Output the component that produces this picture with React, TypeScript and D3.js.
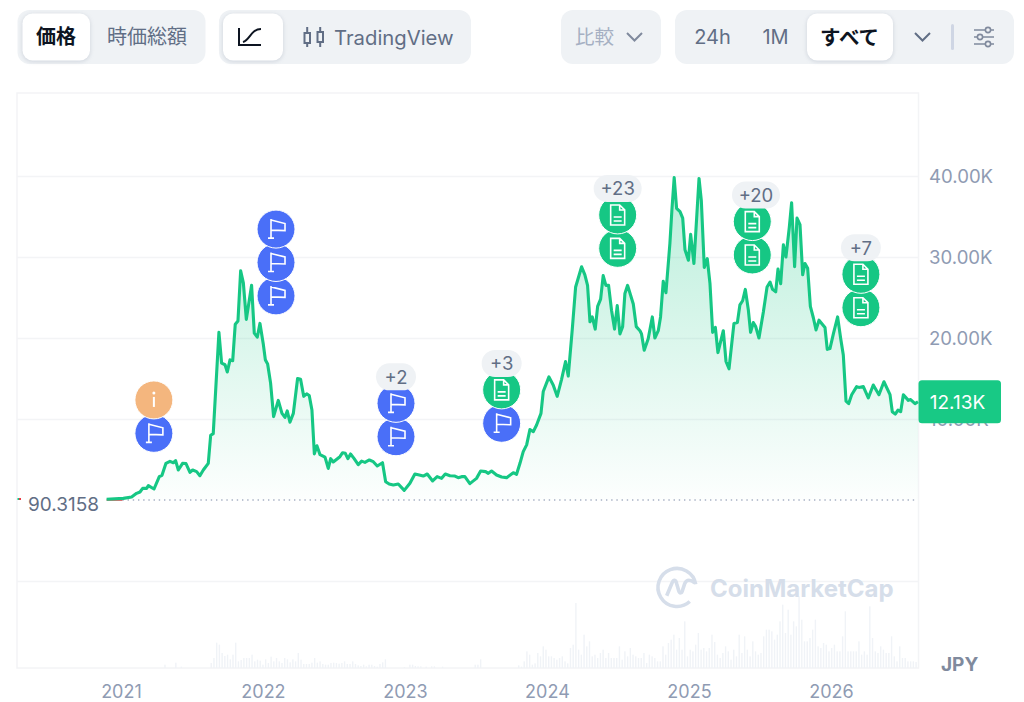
import { useEffect, useRef } from "react"
import * as d3 from "d3"

const LATIN = "Inter, 'Noto Sans CJK JP', sans-serif"

const GREEN = "#16c784"
const BLUE = "#4a6ff8"
const ORANGE = "#f4b67e"
const GRID = "#f3f4f6"
const AXIS_TEXT = "#8f9bb3"
const PILL = "#eff2f5"
const MUTED = "#616e85"

const W = 1024
const H = 702

// decimal year of each point
const priceYears = [
  2020.899, 2021.017, 2021.075, 2021.11, 2021.134, 2021.153, 2021.181, 2021.193, 2021.233, 2021.27,
  2021.289, 2021.317, 2021.345, 2021.369, 2021.385, 2021.404, 2021.434, 2021.458, 2021.486, 2021.505,
  2021.533, 2021.556, 2021.58, 2021.615, 2021.632, 2021.65, 2021.69, 2021.709, 2021.733, 2021.749,
  2021.768, 2021.787, 2021.805, 2021.824, 2021.843, 2021.862, 2021.883, 2021.92, 2021.939, 2021.96,
  2021.979, 2022.002, 2022.017, 2022.033, 2022.054, 2022.075, 2022.108, 2022.134, 2022.155, 2022.171,
  2022.19, 2022.214, 2022.244, 2022.265, 2022.287, 2022.308, 2022.326, 2022.345, 2022.362, 2022.38,
  2022.402, 2022.437, 2022.46, 2022.477, 2022.495, 2022.542, 2022.561, 2022.58, 2022.598, 2022.617,
  2022.641, 2022.671, 2022.695, 2022.718, 2022.749, 2022.777, 2022.805, 2022.842, 2022.864, 2022.889,
  2022.918, 2022.953, 2022.995, 2023.035, 2023.07, 2023.101, 2023.129, 2023.157, 2023.195, 2023.227,
  2023.258, 2023.284, 2023.317, 2023.352, 2023.375, 2023.399, 2023.422, 2023.457, 2023.504, 2023.533,
  2023.568, 2023.587, 2023.61, 2023.645, 2023.681, 2023.716, 2023.763, 2023.786, 2023.81, 2023.833,
  2023.857, 2023.88, 2023.904, 2023.927, 2023.958, 2023.974, 2024.014, 2024.044, 2024.072, 2024.103,
  2024.131, 2024.15, 2024.178, 2024.202, 2024.244, 2024.267, 2024.286, 2024.303, 2024.319, 2024.34,
  2024.357, 2024.378, 2024.396, 2024.415, 2024.434, 2024.455, 2024.476, 2024.495, 2024.514, 2024.533,
  2024.549, 2024.568, 2024.608, 2024.629, 2024.655, 2024.666, 2024.685, 2024.713, 2024.742, 2024.76,
  2024.784, 2024.8, 2024.819, 2024.838, 2024.866, 2024.88, 2024.896, 2024.913, 2024.937, 2024.956,
  2024.972, 2024.996, 2025.012, 2025.035, 2025.071, 2025.087, 2025.108, 2025.129, 2025.148, 2025.167,
  2025.186, 2025.204, 2025.242, 2025.261, 2025.282, 2025.317, 2025.341, 2025.359, 2025.378, 2025.397,
  2025.418, 2025.434, 2025.453, 2025.47, 2025.493, 2025.524, 2025.55, 2025.571, 2025.589, 2025.611,
  2025.627, 2025.646, 2025.665, 2025.683, 2025.707, 2025.723, 2025.744, 2025.761, 2025.782, 2025.801,
  2025.817, 2025.836, 2025.855, 2025.876, 2025.895, 2025.916, 2025.939, 2025.958, 2025.974, 2025.993,
  2026.017, 2026.047, 2026.068, 2026.087, 2026.106, 2026.125, 2026.146, 2026.181, 2026.197, 2026.228,
  2026.263, 2026.298, 2026.338, 2026.373, 2026.416, 2026.432, 2026.453, 2026.472, 2026.491, 2026.51,
  2026.545, 2026.561, 2026.592, 2026.613,
]

// price in thousand JPY
const priceValues = [
  0.09, 0.2, 0.37, 0.82, 0.99, 1.44, 1.44, 1.77, 1.36, 2.88,
  3.05, 4.53, 4.77, 4.6, 4.86, 3.7, 4.53, 4.49, 3.42, 3.7,
  3.5, 3.0, 3.7, 4.53, 8.0, 8.2, 20.7, 16.9, 16.7, 15.8,
  17.3, 17.2, 21.7, 22.1, 28.3, 26.8, 22.3, 26.5, 20.6, 20.1,
  21.8, 19.3, 17.3, 16.8, 14.4, 10.3, 12.3, 10.7, 10.2, 11.0,
  9.6, 10.7, 15.0, 14.9, 12.8, 13.1, 12.9, 11.1, 5.7, 6.7,
  5.6, 5.3, 3.9, 5.1, 4.7, 5.35, 5.84, 5.76, 5.1, 5.68,
  5.14, 4.36, 4.8, 4.65, 4.94, 4.73, 4.2, 4.6, 2.26, 1.97,
  1.85, 1.97, 1.19, 2.06, 3.21, 3.09, 2.96, 3.21, 2.35, 2.88,
  2.67, 3.21, 3.0, 2.96, 2.76, 2.88, 2.88, 2.02, 2.67, 3.58,
  3.5, 3.29, 3.58, 3.09, 2.84, 2.76, 3.37, 3.17, 4.53, 5.97,
  6.8, 8.7, 8.44, 9.26, 10.7, 13.4, 15.2, 14.2, 12.8, 14.9,
  17.1, 15.3, 21.0, 26.3, 28.8, 27.8, 26.5, 22.0, 22.6, 21.1,
  23.9, 24.8, 27.7, 26.5, 26.5, 23.4, 21.1, 24.0, 20.5, 21.4,
  25.5, 26.5, 24.2, 21.4, 20.9, 20.5, 18.5, 19.9, 22.6, 20.0,
  20.9, 22.6, 27.0, 25.6, 31.7, 35.8, 39.8, 36.0, 35.6, 34.8,
  30.9, 29.6, 32.8, 29.2, 39.7, 37.0, 28.7, 29.8, 26.75, 20.7,
  21.3, 18.2, 20.9, 17.1, 16.2, 21.8, 21.9, 24.1, 24.6, 26.0,
  23.5, 20.7, 21.9, 21.4, 20.0, 23.2, 26.3, 26.9, 26.0, 25.7,
  28.5, 26.7, 31.5, 30.0, 33.7, 36.7, 28.8, 34.8, 34.0, 27.8,
  29.2, 28.6, 23.9, 22.5, 21.0, 22.2, 21.7, 21.3, 18.6, 18.7,
  20.5, 22.6, 20.0, 17.9, 12.2, 11.9, 13.0, 14.0, 13.9, 14.0,
  12.6, 14.2, 13.0, 14.6, 13.0, 10.9, 10.6, 11.1, 10.9, 13.0,
  12.3, 12.4, 11.9, 12.13,
]

// weekly volume (arbitrary units), first bar at volumeStart
const volumeStart = 2021.31
const volumes = [
  10, 0, 0, 0, 16, 0, 4, 0, 0, 0, 0, 0, 0, 0, 0, 0, 0, 15, 30, 76,
  70, 45, 36, 40, 26, 40, 76, 20, 24, 30, 30, 30, 40, 20, 25, 22, 10, 26, 15, 34,
  20, 30, 20, 15, 30, 26, 17, 26, 20, 45, 25, 12, 12, 12, 16, 30, 16, 20, 12, 10,
  10, 15, 16, 15, 13, 15, 20, 12, 12, 20, 12, 8, 6, 10, 5, 10, 10, 6, 4, 12,
  17, 26, 0, 0, 0, 0, 0, 0, 3, 0, 10, 10, 6, 5, 5, 0, 4, 0, 5, 5,
  0, 0, 4, 0, 0, 0, 0, 0, 0, 0, 0, 0, 0, 0, 10, 10, 26, 0, 0, 0,
  0, 0, 0, 0, 0, 0, 0, 0, 0, 0, 8, 4, 20, 50, 40, 10, 14, 45, 35, 65,
  55, 35, 35, 30, 25, 30, 35, 20, 14, 60, 70, 195, 55, 40, 100, 65, 80, 35, 40, 30,
  45, 55, 30, 45, 30, 30, 30, 65, 25, 50, 35, 60, 40, 35, 30, 30, 45, 15, 40, 35,
  30, 20, 20, 65, 40, 75, 85, 100, 55, 90, 55, 140, 35, 55, 50, 70, 105, 55, 60, 50,
  60, 100, 78, 40, 30, 45, 65, 50, 25, 55, 35, 100, 45, 95, 55, 35, 80, 50, 40, 45,
  95, 115, 115, 110, 85, 100, 140, 190, 105, 175, 100, 140, 125, 215, 145, 80, 80, 90, 115, 145,
  65, 60, 75, 70, 50, 60, 70, 50, 50, 95, 170, 50, 50, 50, 50, 80, 40, 50, 40, 185,
  90, 50, 45, 65, 55, 45, 45, 95, 35, 20, 65, 30, 30, 20, 20, 20, 18,
]

const yearTicks = [2021, 2022, 2023, 2024, 2025, 2026]
const priceTicks = [10, 20, 30, 40]
const gridTicks = [-10, 10, 20, 30, 40]

// event stacks: date, price level of the lowest circle, kinds bottom to top, hidden count
const eventYears = [2021.232, 2022.092, 2022.937, 2023.681, 2024.498, 2025.446, 2026.211]
const eventLevels = [8.23, 25.2, 7.81, 9.47, 31.07, 30.25, 23.74]
const eventKinds = [
  ["flag", "info"],
  ["flag", "flag", "flag"],
  ["flag", "flag"],
  ["flag", "doc"],
  ["doc", "doc"],
  ["doc", "doc"],
  ["doc", "doc"],
]
const eventMore = ["", "", "+2", "+3", "+23", "+20", "+7"]

const lastPrice = "12.13K"
const basePrice = "90.3158"

const EVENT_STEP = 33.4
const EVENT_R = 19

function drawEventIcon(g: d3.Selection<SVGGElement, unknown, null, undefined>, kind: string) {
  const fill = kind === "flag" ? BLUE : kind === "doc" ? GREEN : ORANGE
  g.append("circle").attr("r", EVENT_R).attr("fill", fill).attr("stroke", "#fff").attr("stroke-width", 1)
  const icon = g.append("path").attr("fill", "none").attr("stroke", "#fff").attr("stroke-width", 1.6)
  if (kind === "flag") {
    icon.attr("d", "M-5,-10V9M-8,9H-2M-5,-9L9,-5.5V1.5L-5,1")
  } else if (kind === "doc") {
    icon.attr("d", "M-7,-10H2L7,-5V10H-7ZM2,-10V-5H7M-4,2H4M-4,6H4")
  } else {
    icon.attr("d", "M0,-3V7").attr("stroke-width", 2)
    g.append("circle").attr("cy", -7).attr("r", 1.5).attr("fill", "#fff")
  }
}

function Toolbar() {
  const shadow = { filter: "drop-shadow(0 1px 2px rgba(88,102,126,0.22))" }
  const label = { fontFamily: LATIN, dominantBaseline: "central" as const }
  const chevron = "M0,0L7.5,7.5L15,0"
  return (
    <g>
      <rect x={17.5} y={10} width={188} height={54} rx={12} fill={PILL} />
      <rect x={22.5} y={13.5} width={67.5} height={47} rx={10} fill="#fff" style={shadow} />
      <text x={56} y={37} textAnchor="middle" fontSize={20} fontWeight={700} fill="#0d1421" style={label}>価格</text>
      <text x={147} y={37} textAnchor="middle" fontSize={20} fill={MUTED} style={label}>時価総額</text>

      <rect x={219} y={10} width={252} height={54} rx={12} fill={PILL} />
      <rect x={223} y={13.5} width={60} height={47} rx={10} fill="#fff" style={shadow} />
      <path d="M239,28V45H261M243,42C250,40 251,29 261,29" fill="none" stroke="#0d1421" strokeWidth={2} />
      <path
        d="M304.5,33H310V43H304.5ZM307.2,27V33M307.2,43V47M317.5,32H323V42H317.5ZM320.2,27V32M320.2,42V47"
        fill="none"
        stroke={MUTED}
        strokeWidth={2}
      />
      <text x={334} y={37} fontSize={20.3} fill={MUTED} style={label}>TradingView</text>

      <rect x={561} y={10} width={100} height={54} rx={12} fill={PILL} />
      <text x={575} y={37} fontSize={19.5} fill="#a6b0c3" style={label}>比較</text>
      <path d={chevron} transform="translate(627,33)" fill="none" stroke="#808a9d" strokeWidth={2} />

      <rect x={675} y={10} width={339} height={54} rx={12} fill={PILL} />
      <rect x={807} y={13.5} width={86} height={47} rx={10} fill="#fff" style={shadow} />
      <text x={712.5} y={37} textAnchor="middle" fontSize={20} fill={MUTED} style={label}>24h</text>
      <text x={775.5} y={37} textAnchor="middle" fontSize={20} fill={MUTED} style={label}>1M</text>
      <text x={849.5} y={37} textAnchor="middle" fontSize={20.5} fontWeight={700} fill="#0d1421" style={label}>すべて</text>
      <path d={chevron} transform="translate(915,33)" fill="none" stroke={MUTED} strokeWidth={2} />
      <rect x={951} y={24} width={3} height={26} rx={1.5} fill="#cfd6e4" />
      <path
        d="M974,30H994M974,37H994M974,44H994"
        fill="none"
        stroke="#808a9d"
        strokeWidth={1.6}
      />
      <circle cx={988} cy={30} r={2.6} fill={PILL} stroke="#808a9d" strokeWidth={1.6} />
      <circle cx={980} cy={37} r={2.6} fill={PILL} stroke="#808a9d" strokeWidth={1.6} />
      <circle cx={988} cy={44} r={2.6} fill={PILL} stroke="#808a9d" strokeWidth={1.6} />
    </g>
  )
}

export default function App() {
  const chartRef = useRef<SVGGElement>(null)

  useEffect(() => {
    if (!chartRef.current) return
    const root = d3.select(chartRef.current)
    root.selectAll("*").remove()

    const x = d3.scaleLinear().domain([2020.268, 2026.613]).range([17, 918])
    const y = d3.scaleLinear().domain([0, 40]).range([500, 176])
    const v = d3.scaleLinear().domain([0, 300]).range([668, 568])

    // frame
    root.append("rect").attr("x", 17).attr("y", 93).attr("width", 901.5).attr("height", 575)
      .attr("fill", "none").attr("stroke", GRID).attr("stroke-width", 1.5)

    root.selectAll("line.grid").data(gridTicks).join("line")
      .attr("class", "grid")
      .attr("x1", 17).attr("x2", 918)
      .attr("y1", (d) => y(d) + 0.5).attr("y2", (d) => y(d) + 0.5)
      .attr("stroke", GRID).attr("stroke-width", 1.5)

    // volume bars
    root.append("g").selectAll("rect").data(volumes).join("rect")
      .attr("x", (_, i) => x(volumeStart + (i * 7) / 365.25) - 0.7)
      .attr("width", 1.4)
      .attr("y", (d) => v(d))
      .attr("height", (d) => 668 - v(d))
      .attr("fill", "#f0f3f7")

    // watermark
    const mark = root.append("g").attr("transform", "translate(677.7,586.7)")
    mark.append("path")
      .attr("d", "M14,13A19,19 0 1 1 17.5,-5")
      .attr("transform", "rotate(8)")
      .attr("fill", "none").attr("stroke", "#d6deea").attr("stroke-width", 3.6)
    mark.append("path")
      .attr("d", "M-11,9L-6,-3C-4,-8 -2,-7 -1,-3L1,4C2,7 4,7 5,3L7,-3C9,-8 13,-7 17,-4")
      .attr("fill", "none").attr("stroke", "#d6deea").attr("stroke-width", 3.6)
    root.append("text").attr("x", 710).attr("y", 588)
      .attr("dominant-baseline", "central")
      .attr("font-family", LATIN).attr("font-size", 24).attr("font-weight", 700)
      .attr("fill", "#d6deea")
      .text("CoinMarketCap")

    // area gradient
    const defs = root.append("defs")
    const grad = defs.append("linearGradient").attr("id", "priceFill")
      .attr("gradientUnits", "userSpaceOnUse")
      .attr("x1", 0).attr("x2", 0).attr("y1", y(40)).attr("y2", y(0))
    grad.append("stop").attr("offset", 0).attr("stop-color", GREEN).attr("stop-opacity", 0.3)
    grad.append("stop").attr("offset", 1).attr("stop-color", GREEN).attr("stop-opacity", 0.01)

    const points = priceYears.map((t, i) => [t, priceValues[i]] as [number, number])

    root.append("path").datum(points)
      .attr("d", d3.area<[number, number]>().x((d) => x(d[0])).y0(y(0)).y1((d) => y(d[1])))
      .attr("fill", "url(#priceFill)")

    // base price line
    root.append("line")
      .attr("x1", x(2021.01)).attr("x2", 918).attr("y1", 500).attr("y2", 500)
      .attr("stroke", "#a6b0c3").attr("stroke-width", 1.3).attr("stroke-dasharray", "1.4 3.8")
    root.append("line")
      .attr("x1", x(2020.899)).attr("x2", x(2021.01)).attr("y1", 500).attr("y2", 500)
      .attr("stroke", "#ea3943").attr("stroke-width", 1.5)
    root.append("line").attr("x1", 17.5).attr("x2", 19).attr("y1", 499).attr("y2", 499)
      .attr("stroke", GREEN).attr("stroke-width", 2)
    root.append("line").attr("x1", 19).attr("x2", 21).attr("y1", 499).attr("y2", 499)
      .attr("stroke", "#ea3943").attr("stroke-width", 2)

    root.append("path").datum(points)
      .attr("d", d3.line<[number, number]>().x((d) => x(d[0])).y((d) => y(d[1])))
      .attr("fill", "none").attr("stroke", GREEN).attr("stroke-width", 3.1)
      .attr("stroke-linejoin", "round")

    // axes
    const yAxis = root.append("g").attr("transform", "translate(918.5,0.5)")
      .call(d3.axisRight(y).tickValues(priceTicks).tickSize(0).tickPadding(10.5)
        .tickFormat((d) => `${d}.00K`))
    yAxis.select(".domain").remove()
    yAxis.selectAll("text").attr("fill", AXIS_TEXT).attr("font-size", 18.6).attr("font-family", LATIN)

    const xAxis = root.append("g").attr("transform", "translate(0,668)")
      .call(d3.axisBottom(x).tickValues(yearTicks).tickSize(0).tickPadding(17.5)
        .tickFormat((d) => String(d)))
    xAxis.select(".domain").remove()
    xAxis.selectAll("text").attr("fill", AXIS_TEXT).attr("font-size", 18).attr("font-family", LATIN)

    root.append("text").attr("x", 941).attr("y", 664).attr("dominant-baseline", "central")
      .attr("font-family", LATIN).attr("font-size", 19).attr("font-weight", 700).attr("fill", "#808a9d")
      .text("JPY")

    root.append("text").attr("x", 28).attr("y", 504).attr("dominant-baseline", "central")
      .attr("font-family", LATIN).attr("font-size", 19).attr("fill", MUTED)
      .text(basePrice)

    // event markers
    eventYears.forEach((t, i) => {
      const cx = x(t)
      const bottom = y(eventLevels[i])
      const kinds = eventKinds[i]
      kinds.forEach((kind, k) => {
        const g = root.append("g").attr("transform", `translate(${cx},${bottom - k * EVENT_STEP})`)
        drawEventIcon(g, kind)
      })
      if (eventMore[i]) {
        const wide = eventMore[i].length > 2
        const bw = wide ? 48 : 40
        const bx = cx + (wide && i === 5 ? 3.7 : 0)
        const by = bottom - EVENT_STEP - 26.5
        root.append("rect").attr("x", bx - bw / 2).attr("y", by - 13.5).attr("width", bw).attr("height", 27)
          .attr("rx", 13.5).attr("fill", PILL)
        root.append("text").attr("x", bx).attr("y", by).attr("text-anchor", "middle")
          .attr("dominant-baseline", "central")
          .attr("font-family", LATIN).attr("font-size", 18.5).attr("fill", MUTED)
          .text(eventMore[i])
      }
    })

    // last price tag
    const tagY = y(priceValues[priceValues.length - 1])
    root.append("rect").attr("x", 918.5).attr("y", tagY - 21.5).attr("width", 82.5).attr("height", 43)
      .attr("rx", 3.5).attr("fill", "#18c985")
    root.append("text").attr("x", 957.5).attr("y", tagY + 0.5).attr("text-anchor", "middle")
      .attr("dominant-baseline", "central")
      .attr("font-family", LATIN).attr("font-size", 19).attr("font-weight", 400).attr("fill", "#fff")
      .text(lastPrice)
  }, [])

  return (
    <svg
      width={W}
      height={H}
      viewBox={`0 0 ${W} ${H}`}
      style={{ position: "absolute", left: 0, top: 0, display: "block", background: "#fff" }}
    >
      <Toolbar />
      <g ref={chartRef} />
    </svg>
  )
}
